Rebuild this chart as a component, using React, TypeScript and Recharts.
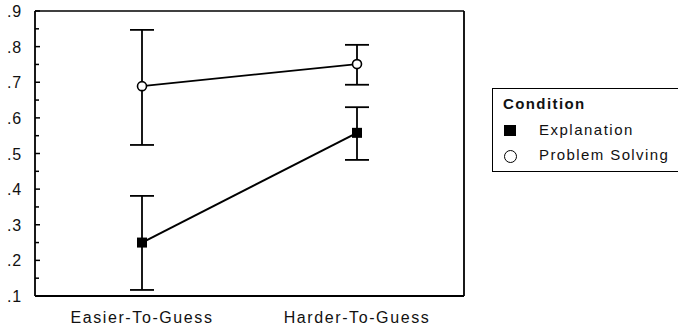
import React from 'react';
import { LineChart, Line, XAxis, YAxis, ErrorBar, Legend } from 'recharts';

const categories = ['Easier-To-Guess', 'Harder-To-Guess'];
const explanationMean = [0.25, 0.558];
const explanationLow = [0.117, 0.482];
const explanationHigh = [0.381, 0.63];
const problemMean = [0.689, 0.751];
const problemLow = [0.524, 0.693];
const problemHigh = [0.847, 0.805];
const yTicks = [0.1, 0.15, 0.2, 0.25, 0.3, 0.35, 0.4, 0.45, 0.5, 0.55, 0.6, 0.65, 0.7, 0.75, 0.8, 0.85, 0.9];
const yTickLabels = ['.1', '', '.2', '', '.3', '', '.4', '', '.5', '', '.6', '', '.7', '', '.8', '', '.9'];
const legendTitle = 'Condition';
const seriesNames = ['Explanation', 'Problem Solving'];

const FONT = '"Liberation Sans", Arial, Helvetica, sans-serif';

const data = categories.map((c, i) => ({
  cond: c,
  exp: explanationMean[i],
  expErr: [explanationMean[i] - explanationLow[i], explanationHigh[i] - explanationMean[i]],
  ps: problemMean[i],
  psErr: [problemMean[i] - problemLow[i], problemHigh[i] - problemMean[i]],
}));

const LEFT_MARGIN = 13;

const LeftTick = (props: any) => {
  const { x, y, index } = props;
  const label = yTickLabels[index] || '';
  const major = label !== '';
  const ax = x + LEFT_MARGIN;
  return (
    <g>
      <line x1={ax} x2={ax + (major ? 5 : 4)} y1={y} y2={y} stroke="#000" strokeWidth={1.5} />
      {major && (
        <text x={x} y={y} dy="0.38em" textAnchor="end" fontSize={16} fill="#111" fontFamily={FONT} letterSpacing={0.8}>
          {label}
        </text>
      )}
    </g>
  );
};

const RightTick = (props: any) => {
  const { x, y, index } = props;
  const major = (yTickLabels[index] || '') !== '';
  return <line x1={x} x2={x - (major ? 5 : 4)} y1={y} y2={y} stroke="#000" strokeWidth={1.5} />;
};

const SquareDot = (props: any) => {
  const { cx, cy, index } = props;
  return <rect key={`sq-${index}`} x={cx - 5} y={cy - 5} width={10} height={10} fill="#000" />;
};

const CircleDot = (props: any) => {
  const { cx, cy, index } = props;
  return <circle key={`c-${index}`} cx={cx} cy={cy} r={4.5} fill="#fff" stroke="#000" strokeWidth={1.6} />;
};

const LegendBox = () => (
  <div
    style={{
      border: '1.5px solid #000',
      width: 200,
      height: 84,
      boxSizing: 'border-box',
      fontFamily: FONT,
      color: '#111',
      position: 'relative',
    }}
  >
    <div style={{ position: 'absolute', left: 10, top: 6, fontWeight: 'bold', fontSize: 15, letterSpacing: 1.4 }}>
      {legendTitle}
    </div>
    <div style={{ position: 'absolute', left: 11, top: 36, width: 12, height: 11, background: '#000' }} />
    <div style={{ position: 'absolute', left: 46, top: 32, fontSize: 15, letterSpacing: 1.5 }}>{seriesNames[0]}</div>
    <div
      style={{
        position: 'absolute',
        left: 11,
        top: 61,
        width: 13,
        height: 13,
        borderRadius: '50%',
        border: '1.8px solid #000',
        boxSizing: 'border-box',
      }}
    />
    <div style={{ position: 'absolute', left: 46, top: 57, fontSize: 15, letterSpacing: 1.4 }}>{seriesNames[1]}</div>
  </div>
);

export default function App() {
  return (
    <div style={{ position: 'absolute', left: 0, top: 0, width: 678, height: 329, overflow: 'hidden', background: '#fff' }}>
      <LineChart width={678} height={329} data={data} margin={{ top: 10, right: 204, bottom: 0, left: 0 }}>
        <XAxis
          dataKey="cond"
          xAxisId="bottom"
          height={33}
          padding={{ left: 107, right: 107 }}
          interval={0}
          axisLine={{ stroke: '#000', strokeWidth: 1.8 }}
          tickLine={false}
          tickSize={0}
          tickMargin={16}
          tick={{ fontSize: 16, fill: '#111', fontFamily: FONT, letterSpacing: 1.6 }}
        />
        <XAxis
          dataKey="cond"
          xAxisId="top"
          orientation="top"
          height={1}
          padding={{ left: 107, right: 107 }}
          axisLine={{ stroke: '#000', strokeWidth: 1.6 }}
          tickLine={false}
          tick={false}
        />
        <YAxis
          yAxisId="left"
          width={35}
          domain={[0.1, 0.9]}
          ticks={yTicks}
          interval={0}
          type="number"
          axisLine={{ stroke: '#000', strokeWidth: 1.8 }}
          tickLine={false}
          tickSize={0}
          tickMargin={LEFT_MARGIN}
          tick={<LeftTick />}
        />
        <YAxis
          yAxisId="right"
          orientation="right"
          width={10}
          domain={[0.1, 0.9]}
          ticks={yTicks}
          interval={0}
          type="number"
          axisLine={{ stroke: '#000', strokeWidth: 1.8 }}
          tickLine={false}
          tickSize={0}
          tickMargin={0}
          tick={<RightTick />}
        />
        <Legend
          layout="vertical"
          align="center"
          verticalAlign="middle"
          wrapperStyle={{ position: 'absolute', left: 492, top: 88, width: 200 }}
          content={() => <LegendBox />}
        />
        <Line
          xAxisId="bottom"
          yAxisId="left"
          dataKey="ps"
          name={seriesNames[1]}
          stroke="#000"
          strokeWidth={1.8}
          isAnimationActive={false}
          dot={<CircleDot />}
          activeDot={false}
        >
          <ErrorBar dataKey="psErr" width={12} stroke="#000" strokeWidth={1.8} />
        </Line>
        <Line
          xAxisId="bottom"
          yAxisId="left"
          dataKey="exp"
          name={seriesNames[0]}
          stroke="#000"
          strokeWidth={2}
          isAnimationActive={false}
          dot={<SquareDot />}
          activeDot={false}
        >
          <ErrorBar dataKey="expErr" width={12} stroke="#000" strokeWidth={1.8} />
        </Line>
      </LineChart>
    </div>
  );
}
